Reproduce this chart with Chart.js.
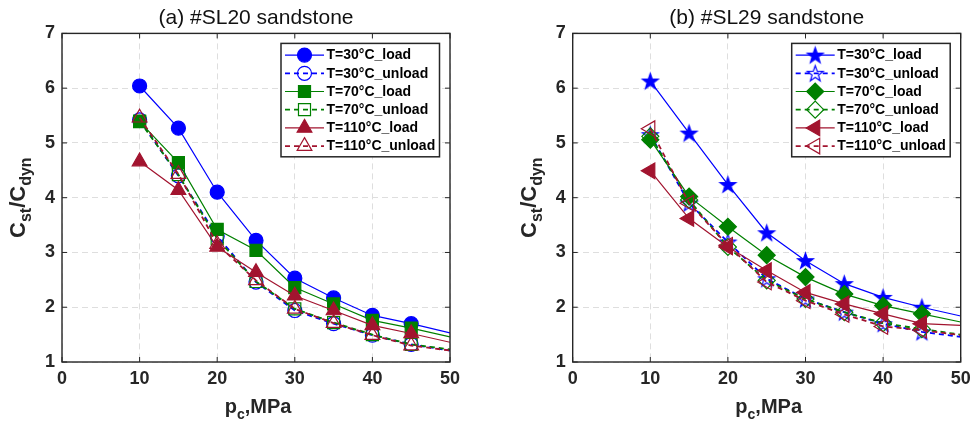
<!DOCTYPE html>
<html><head><meta charset="utf-8">
<script src="https://cdn.jsdelivr.net/npm/chart.js@4.4.1/dist/chart.umd.min.js"></script>
<style>
html,body{margin:0;padding:0;background:#fff;}
#wrap{position:relative;width:980px;height:432px;overflow:hidden;}
.c{position:absolute;top:0;width:490px;height:432px;}
</style></head><body>
<div id="wrap">
<div class="c" style="left:0"><canvas id="ca" width="490" height="432"></canvas></div>
<div class="c" style="left:490px"><canvas id="cb" width="490" height="432"></canvas></div>
</div>
<script>
// ---------- data ----------
const pressure = [10, 15, 20, 25, 30, 35, 40, 45, 50];   // last value = where the curve leaves the frame
const xTicks = [0, 10, 20, 30, 40, 50];
const yTicks = [1, 2, 3, 4, 5, 6, 7];
const seriesNames = ['T=30°C_load', 'T=30°C_unload', 'T=70°C_load', 'T=70°C_unload', 'T=110°C_load', 'T=110°C_unload'];
const titleA = '(a) #SL20 sandstone';
const titleB = '(b) #SL29 sandstone';

const sl20_30_load    = [6.04, 5.27, 4.10, 3.22, 2.53, 2.17, 1.85, 1.70, 1.53];
const sl20_30_unload  = [5.42, 4.40, 3.30, 2.46, 1.94, 1.70, 1.49, 1.32, 1.21];
const sl20_70_load    = [5.39, 4.64, 3.42, 3.04, 2.36, 2.06, 1.76, 1.62, 1.46];
const sl20_70_unload  = [5.40, 4.42, 3.25, 2.47, 1.97, 1.72, 1.50, 1.32, 1.23];
const sl20_110_load   = [4.66, 4.14, 3.10, 2.64, 2.21, 1.94, 1.67, 1.52, 1.36];
const sl20_110_unload = [5.46, 4.43, 3.15, 2.49, 1.97, 1.71, 1.49, 1.30, 1.21];

const sl29_30_load    = [6.13, 5.18, 4.24, 3.36, 2.85, 2.43, 2.18, 2.00, 1.84];
const sl29_30_unload  = [5.15, 3.90, 3.19, 2.52, 2.15, 1.91, 1.70, 1.55, 1.46];
const sl29_70_load    = [5.06, 4.02, 3.47, 2.95, 2.55, 2.24, 2.03, 1.88, 1.73];
const sl29_70_unload  = [5.12, 3.96, 3.10, 2.49, 2.15, 1.91, 1.71, 1.60, 1.50];
const sl29_110_load   = [4.49, 3.62, 3.10, 2.67, 2.27, 2.06, 1.88, 1.70, 1.67];
const sl29_110_unload = [5.26, 3.90, 3.13, 2.46, 2.12, 1.87, 1.65, 1.58, 1.49];

// ---------- styling ----------
const BLUE = '#0000ff', GREEN = '#008000', RED = '#a2142f', AX = '#262626';
const FONT = '"Liberation Sans", Arial, sans-serif';

function starCanvas(color, filled, R) {
  const s = Math.ceil(2 * R + 4);
  const c = document.createElement('canvas');
  c.width = s; c.height = s;
  const g = c.getContext('2d');
  const cx = s / 2, cy = s / 2 + 0.7, r = R * 0.40;
  g.beginPath();
  for (let i = 0; i < 10; i++) {
    const a = -Math.PI / 2 + i * Math.PI / 5;
    const rr = (i % 2) ? r : R;
    g.lineTo(cx + rr * Math.cos(a), cy + rr * Math.sin(a));
  }
  g.closePath();
  if (filled) { g.fillStyle = color; g.fill(); }
  g.strokeStyle = color; g.lineWidth = 1.2; g.stroke();
  return c;
}

function makeDatasets(values, markers) {
  const colors = [BLUE, BLUE, GREEN, GREEN, RED, RED];
  return values.map((vals, i) => {
    const unload = i % 2 === 1;
    const m = markers[i];
    return {
      label: seriesNames[i],
      data: pressure.map((p, k) => ({ x: p, y: vals[k] })),
      borderColor: colors[i],
      backgroundColor: colors[i],
      borderWidth: unload ? 1.8 : 1.2,
      borderDash: unload ? [5, 4] : [],
      pointStyle: m.style,
      pointRotation: m.rot || 0,
      pointBackgroundColor: unload ? 'rgba(0,0,0,0)' : colors[i],
      pointBorderColor: colors[i],
      pointBorderWidth: 1.2,
      pointRadius: (ctx) => (ctx.dataIndex === pressure.length - 1 ? 0 : m.r),
      pointHoverRadius: (ctx) => (ctx.dataIndex === pressure.length - 1 ? 0 : m.r),
      legendRadius: m.r,
      tension: 0,
      order: 10 - i
    };
  });
}

const framePlugin = {
  id: 'frame',
  afterDraw(chart) {
    const { ctx, chartArea: a, scales } = chart;
    ctx.save();
    ctx.strokeStyle = AX; ctx.lineWidth = 1.4; ctx.setLineDash([]);
    ctx.strokeRect(a.left, a.top, a.right - a.left, a.bottom - a.top);
    ctx.lineWidth = 1;
    const tl = 5;
    xTicks.forEach(v => {
      const x = scales.x.getPixelForValue(v);
      ctx.beginPath(); ctx.moveTo(x, a.bottom); ctx.lineTo(x, a.bottom - tl);
      ctx.moveTo(x, a.top); ctx.lineTo(x, a.top + tl); ctx.stroke();
    });
    yTicks.forEach(v => {
      const y = scales.y.getPixelForValue(v);
      ctx.beginPath(); ctx.moveTo(a.left, y); ctx.lineTo(a.left + tl, y);
      ctx.moveTo(a.right, y); ctx.lineTo(a.right - tl, y); ctx.stroke();
    });
    // axis titles with subscripts
    ctx.fillStyle = AX;
    ctx.textBaseline = 'alphabetic';
    // x title: p_c,MPa
    const big = 'bold 20px ' + FONT, small = 'bold 14px ' + FONT;
    ctx.font = big; const wp = ctx.measureText('p').width, wr = ctx.measureText(',MPa').width;
    ctx.font = small; const wc = ctx.measureText('c').width;
    const tot = wp + wc + wr;
    let x0 = (a.left + a.right) / 2 - tot / 2 + 2;
    const yb = 412.5;
    ctx.font = big; ctx.fillText('p', x0, yb);
    ctx.font = small; ctx.fillText('c', x0 + wp, yb + 6);
    ctx.font = big; ctx.fillText(',MPa', x0 + wp + wc, yb);
    // y title: C_st/C_dyn (rotated)
    const bigY = 'bold 22px ' + FONT, smallY = 'bold 16px ' + FONT;
    const parts = [['C', bigY, 0], ['st', smallY, 6], ['/C', bigY, 0], ['dyn', smallY, 6]];
    let total = 0;
    parts.forEach(p => { ctx.font = p[1]; p.push(ctx.measureText(p[0]).width); total += p[3]; });
    ctx.save();
    ctx.translate(a.left - 37, (a.top + a.bottom) / 2);
    ctx.rotate(-Math.PI / 2);
    let cx = -total / 2;
    parts.forEach(p => { ctx.font = p[1]; ctx.fillText(p[0], cx, p[2]); cx += p[3]; });
    ctx.restore();
    ctx.restore();
  }
};

const legendPlugin = {
  id: 'boxLegend',
  afterDraw(chart) {
    const { ctx, chartArea: a } = chart;
    const bw = 158.5, bh = 113.4;
    const bx = a.right - 10.5 - bw, by = a.top + 10;
    ctx.save();
    ctx.fillStyle = '#fff'; ctx.fillRect(bx, by, bw, bh);
    ctx.strokeStyle = AX; ctx.lineWidth = 1.5; ctx.setLineDash([]);
    ctx.strokeRect(bx, by, bw, bh);
    chart.data.datasets.forEach((ds, i) => {
      const y = by + 11.7 + i * 18.2;
      ctx.save();
      ctx.strokeStyle = ds.borderColor; ctx.lineWidth = ds.borderWidth;
      ctx.setLineDash(ds.borderDash || []);
      ctx.beginPath(); ctx.moveTo(bx + 4, y); ctx.lineTo(bx + 43, y); ctx.stroke();
      ctx.restore();
      ctx.save();
      ctx.setLineDash([]);
      ctx.fillStyle = ds.pointBackgroundColor; ctx.strokeStyle = ds.pointBorderColor;
      ctx.lineWidth = ds.pointBorderWidth;
      const opts = { pointStyle: ds.pointStyle, rotation: ds.pointRotation || 0, radius: ds.legendRadius, borderWidth: ds.pointBorderWidth };
      if (Chart.helpers && Chart.helpers.drawPoint) {
        Chart.helpers.drawPoint(ctx, opts, bx + 23.5, y);
      } else {
        ctx.beginPath(); ctx.arc(bx + 23.5, y, ds.legendRadius, 0, Math.PI * 2); ctx.fill(); ctx.stroke();
      }
      ctx.restore();
      ctx.fillStyle = '#000';
      ctx.font = 'bold 14px ' + FONT; ctx.textBaseline = 'middle';
      ctx.fillText(ds.label, bx + 45.5, y + 0.5);
    });
    ctx.restore();
  }
};

function makeChart(id, title, values, markers, leftW, rightPad) {
  return new Chart(document.getElementById(id), {
    type: 'line',
    data: { datasets: makeDatasets(values, markers) },
    options: {
      responsive: false,
      animation: false,
      devicePixelRatio: 1,
      layout: { padding: { left: 0, right: rightPad, top: 0, bottom: 0 } },
      plugins: {
        legend: { display: false },
        tooltip: { enabled: false },
        title: {
          display: true, text: title, fullSize: false, color: '#111',
          font: { family: FONT, size: 21, weight: 'normal' },
          padding: { top: 6, bottom: 2.2 }
        }
      },
      scales: {
        x: {
          type: 'linear', min: 0, max: 50,
          afterBuildTicks: s => { s.ticks = xTicks.map(v => ({ value: v })); },
          afterFit: s => { s.height = 70; },
          ticks: { color: AX, font: { family: FONT, size: 18, weight: 'bold' }, padding: 6, maxRotation: 0, autoSkip: false },
          grid: { color: '#dedede', lineWidth: 1, drawTicks: false },
          border: { display: false, dash: [6, 4] }
        },
        y: {
          type: 'linear', min: 1, max: 7,
          afterBuildTicks: s => { s.ticks = yTicks.map(v => ({ value: v })); },
          afterFit: s => { s.width = leftW; },
          ticks: { color: AX, font: { family: FONT, size: 18, weight: 'bold' }, padding: 7, autoSkip: false },
          grid: { color: '#dedede', lineWidth: 1, drawTicks: false },
          border: { display: false, dash: [6, 4] }
        }
      }
    },
    plugins: [framePlugin, legendPlugin]
  });
}

const markersA = [
  { style: 'circle', r: 7 }, { style: 'circle', r: 7 },
  { style: 'rect', r: 8.5 }, { style: 'rect', r: 8.5 },
  { style: 'triangle', r: 8.5 }, { style: 'triangle', r: 8.5 }
];
const markersB = [
  { style: starCanvas(BLUE, true, 8.3), r: 8 }, { style: starCanvas(BLUE, false, 8.3), r: 8 },
  { style: 'rectRot', r: 8.5 }, { style: 'rectRot', r: 8.5 },
  { style: 'triangle', r: 9, rot: -90 }, { style: 'triangle', r: 9, rot: -90 }
];

makeChart('ca', titleA,
  [sl20_30_load, sl20_30_unload, sl20_70_load, sl20_70_unload, sl20_110_load, sl20_110_unload],
  markersA, 62, 40);
makeChart('cb', titleB,
  [sl29_30_load, sl29_30_unload, sl29_70_load, sl29_70_unload, sl29_110_load, sl29_110_unload],
  markersB, 82.7, 19.3);
</script>
</body></html>
